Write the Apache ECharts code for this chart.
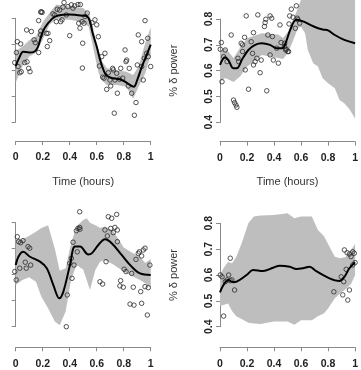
<!DOCTYPE html>
<html>
<head>
<meta charset="utf-8">
<script src="https://cdn.jsdelivr.net/npm/echarts@6/dist/echarts.min.js"></script>
<style>
  html, body { margin: 0; padding: 0; background: #fff; }
  #chart { width: 361px; height: 370px; }
</style>
</head>
<body>
<div id="chart"></div>
<script>
// tick labels
const xTicks = [0, 0.2, 0.4, 0.6, 0.8, 1];
const yTicks = [0.4, 0.5, 0.6, 0.7, 0.8];

// ---- top left ----
const tlPoints = [
  [0.185, 0.824], [0.19, 0.825], [0.196, 0.823],
  [0.358, 0.861], [0.308, 0.835], [0.325, 0.832], [0.35, 0.843], [0.387, 0.845], [0.412, 0.852],
  [0.437, 0.848], [0.461, 0.853], [0.479, 0.853], [0.424, 0.839], [0.375, 0.813], [0.276, 0.817],
  [0.289, 0.813], [0.301, 0.787], [0.333, 0.787], [0.343, 0.794], [0.17, 0.791], [0.467, 0.781],
  [0.491, 0.787], [0.4, 0.733], [0.239, 0.742], [0.227, 0.742], [0.252, 0.714], [0.234, 0.691],
  [0.185, 0.751], [0.185, 0.736], [0.081, 0.755], [0.116, 0.749], [0.136, 0.717], [0.145, 0.706],
  [0.012, 0.71], [0.037, 0.701], [0.005, 0.668], [0.17, 0.668], [0.496, 0.704], [-0.007, 0.629],
  [0.067, 0.629], [0.084, 0.632], [0.017, 0.614], [0.096, 0.607], [0.106, 0.594], [0.03, 0.59],
  [0.041, 0.594], [0.494, 0.608],
  [0.513, 0.807], [0.53, 0.82], [0.476, 0.762], [0.506, 0.781], [0.587, 0.794], [0.6, 0.775],
  [0.565, 0.783], [0.612, 0.729], [0.661, 0.665], [0.637, 0.652], [0.62, 0.616], [0.718, 0.607],
  [0.723, 0.601], [0.686, 0.59], [0.644, 0.573], [0.654, 0.569], [0.698, 0.562], [0.735, 0.562],
  [0.768, 0.565], [0.793, 0.569], [0.778, 0.607], [0.81, 0.678], [0.817, 0.633], [0.822, 0.639],
  [0.841, 0.607], [0.748, 0.588], [0.704, 0.539], [0.674, 0.526], [0.753, 0.511], [0.834, 0.539],
  [0.859, 0.511], [0.891, 0.475], [0.73, 0.434], [0.879, 0.426], [0.901, 0.62], [0.933, 0.614],
  [0.945, 0.562], [1.0, 0.614], [0.908, 0.736], [0.933, 0.71], [0.958, 0.791], [0.978, 0.723],
  [0.97, 0.665], [0.982, 0.652], [0.953, 0.646]
];
const tlLineX = [0, 0.03, 0.055, 0.1, 0.14, 0.165, 0.2, 0.24, 0.29, 0.35, 0.4, 0.45, 0.5, 0.53, 0.55, 0.57, 0.6, 0.625, 0.65, 0.675, 0.72, 0.77, 0.81, 0.845, 0.875, 0.9, 0.935, 0.97, 1.0];
const tlLineY = [0.615, 0.652, 0.671, 0.668, 0.672, 0.69, 0.748, 0.781, 0.806, 0.814, 0.815, 0.813, 0.81, 0.807, 0.788, 0.743, 0.691, 0.64, 0.601, 0.578, 0.569, 0.565, 0.556, 0.543, 0.536, 0.562, 0.614, 0.659, 0.698];
const tlBandX = [0, 0.05, 0.1, 0.15, 0.2, 0.25, 0.3, 0.35, 0.4, 0.45, 0.5, 0.54, 0.565, 0.59, 0.615, 0.64, 0.675, 0.75, 0.82, 0.87, 0.91, 0.96, 1.0];
const tlBandUp = [0.675, 0.69, 0.715, 0.73, 0.785, 0.82, 0.852, 0.85, 0.845, 0.842, 0.84, 0.82, 0.785, 0.72, 0.675, 0.633, 0.607, 0.6, 0.594, 0.581, 0.614, 0.705, 0.765];
const tlBandLo = [0.551, 0.615, 0.653, 0.667, 0.717, 0.775, 0.797, 0.795, 0.794, 0.79, 0.781, 0.768, 0.71, 0.646, 0.588, 0.56, 0.543, 0.543, 0.536, 0.49, 0.536, 0.588, 0.659];

// ---- top right ----
const trPoints = [
  [0.01, 0.709], [0.002, 0.683], [0.039, 0.68], [0.027, 0.654], [0.052, 0.635], [0.015, 0.557],
  [0.083, 0.738], [0.133, 0.648], [0.138, 0.635], [0.1, 0.486], [0.108, 0.476], [0.118, 0.467],
  [0.125, 0.458], [0.157, 0.706], [0.167, 0.70], [0.182, 0.729], [0.167, 0.674], [0.187, 0.603],
  [0.194, 0.812], [0.211, 0.528], [0.231, 0.712], [0.241, 0.667], [0.248, 0.747], [0.26, 0.635],
  [0.248, 0.622], [0.273, 0.648], [0.305, 0.641], [0.28, 0.816], [0.297, 0.592], [0.329, 0.771],
  [0.339, 0.799], [0.334, 0.786], [0.346, 0.522], [0.354, 0.738], [0.371, 0.812], [0.383, 0.803],
  [0.388, 0.732], [0.371, 0.661], [0.395, 0.641], [0.42, 0.687], [0.432, 0.629], [0.444, 0.777],
  [0.452, 0.709], [0.477, 0.693], [0.486, 0.68], [0.501, 0.674], [0.511, 0.781],
  [0.528, 0.838], [0.565, 0.851], [0.516, 0.812], [0.54, 0.807], [0.572, 0.803], [0.59, 0.784],
  [0.558, 0.764], [0.479, 0.706], [0.491, 0.683], [0.508, 0.674], [0.577, 0.797]
];
const trLineX = [0, 0.037, 0.062, 0.1, 0.125, 0.165, 0.21, 0.26, 0.31, 0.37, 0.42, 0.46, 0.485, 0.52, 0.565, 0.62, 0.69, 0.76, 0.8, 0.85, 0.92, 1.0];
const trLineY = [0.622, 0.652, 0.641, 0.609, 0.609, 0.645, 0.68, 0.70, 0.706, 0.70, 0.687, 0.687, 0.706, 0.758, 0.797, 0.79, 0.772, 0.759, 0.756, 0.738, 0.719, 0.706];
const trBandX = [0, 0.04, 0.1, 0.15, 0.2, 0.31, 0.43, 0.467, 0.503, 0.54, 0.577, 0.6, 0.63, 0.65, 0.69, 0.725, 0.76, 0.8, 0.85, 0.885, 0.92, 0.96, 1.0];
const trBandUp = [0.675, 0.688, 0.649, 0.69, 0.725, 0.745, 0.74, 0.726, 0.751, 0.797, 0.842, 0.874, 0.95, 1.0, 1.0, 1.0, 1.0, 1.0, 1.0, 1.0, 1.0, 1.0, 1.0];
const trBandLo = [0.558, 0.572, 0.556, 0.578, 0.615, 0.661, 0.649, 0.645, 0.668, 0.715, 0.765, 0.77, 0.745, 0.68, 0.629, 0.616, 0.571, 0.551, 0.532, 0.486, 0.474, 0.45, 0.415];

// ---- bottom left ----
const blPoints = [
  [0.012, 0.746], [0.022, 0.727], [0.037, 0.723], [0.054, 0.731], [0.091, 0.708], [0.104, 0.702],
  [-0.007, 0.612], [0.03, 0.625], [0.004, 0.58], [0.071, 0.648], [0.078, 0.625], [0.111, 0.637],
  [0.375, 0.40], [0.382, 0.522], [0.4, 0.644], [0.412, 0.663], [0.417, 0.586], [0.432, 0.637],
  [0.425, 0.725], [0.456, 0.688], [0.449, 0.769], [0.461, 0.778], [0.474, 0.782], [0.474, 0.842],
  [0.686, 0.823], [0.711, 0.817], [0.748, 0.832], [0.704, 0.778], [0.735, 0.782], [0.753, 0.772],
  [0.723, 0.762], [0.661, 0.772], [0.679, 0.749], [0.669, 0.65], [0.753, 0.727], [0.624, 0.573],
  [0.644, 0.564], [0.803, 0.621], [0.817, 0.612], [0.859, 0.605], [0.777, 0.577], [0.772, 0.557],
  [0.797, 0.552], [0.871, 0.552], [0.926, 0.535], [0.958, 0.554], [0.982, 0.55], [0.847, 0.487],
  [0.876, 0.483], [0.933, 0.49], [0.975, 0.445], [0.891, 0.659], [0.908, 0.682], [0.933, 0.672],
  [0.945, 0.695], [0.958, 0.702], [0.916, 0.688], [0.994, 0.637], [0.476, 0.775]
];
const blLineX = [0, 0.02, 0.056, 0.106, 0.18, 0.23, 0.279, 0.323, 0.353, 0.402, 0.439, 0.476, 0.538, 0.563, 0.612, 0.661, 0.711, 0.785, 0.859, 0.921, 1.0];
const blLineY = [0.637, 0.669, 0.688, 0.669, 0.65, 0.625, 0.56, 0.509, 0.535, 0.637, 0.708, 0.708, 0.678, 0.682, 0.714, 0.736, 0.721, 0.676, 0.631, 0.605, 0.599];
const blBandX = [0, 0.05, 0.1, 0.15, 0.19, 0.24, 0.29, 0.326, 0.37, 0.41, 0.45, 0.5, 0.526, 0.55, 0.59, 0.625, 0.66, 0.72, 0.8, 0.86, 0.92, 0.96, 1.0];
const blBandUp = [0.735, 0.735, 0.75, 0.765, 0.78, 0.79, 0.7, 0.615, 0.625, 0.72, 0.785, 0.81, 0.817, 0.8, 0.79, 0.78, 0.785, 0.77, 0.705, 0.685, 0.669, 0.645, 0.66];
const blBandLo = [0.56, 0.58, 0.59, 0.573, 0.515, 0.471, 0.42, 0.406, 0.458, 0.58, 0.637, 0.62, 0.58, 0.541, 0.618, 0.65, 0.657, 0.64, 0.612, 0.595, 0.58, 0.567, 0.55];

// ---- bottom right ----
const brPoints = [
  [0.076, 0.665], [0.002, 0.60], [0.015, 0.593], [0.064, 0.60], [0.052, 0.581], [0.039, 0.574],
  [0.076, 0.578], [0.088, 0.581], [0.108, 0.542], [0.027, 0.441],
  [0.921, 0.697], [0.941, 0.686], [0.958, 0.681], [0.983, 0.69], [0.97, 0.671], [0.994, 0.684],
  [1.0, 0.648], [0.983, 0.639], [0.934, 0.622], [0.897, 0.593], [0.916, 0.574], [0.843, 0.535],
  [0.909, 0.523], [0.958, 0.542], [0.946, 0.503]
];
const brLineX = [0, 0.025, 0.061, 0.098, 0.123, 0.197, 0.245, 0.319, 0.393, 0.442, 0.516, 0.565, 0.614, 0.663, 0.713, 0.811, 0.884, 0.921, 0.958, 1.0];
const brLineY = [0.533, 0.561, 0.581, 0.572, 0.574, 0.60, 0.619, 0.615, 0.628, 0.636, 0.632, 0.623, 0.626, 0.632, 0.615, 0.587, 0.577, 0.593, 0.626, 0.649];
const brBandX = [0, 0.03, 0.06, 0.09, 0.12, 0.16, 0.21, 0.25, 0.3, 0.4, 0.5, 0.55, 0.6, 0.68, 0.725, 0.77, 0.8, 0.85, 0.89, 0.93, 0.97, 1.0];
const brBandUp = [0.60, 0.63, 0.65, 0.645, 0.67, 0.722, 0.80, 0.826, 0.83, 0.832, 0.839, 0.82, 0.826, 0.826, 0.774, 0.75, 0.72, 0.671, 0.665, 0.67, 0.697, 0.72];
const brBandLo = [0.48, 0.485, 0.49, 0.46, 0.44, 0.43, 0.415, 0.412, 0.41, 0.42, 0.42, 0.408, 0.425, 0.425, 0.44, 0.452, 0.47, 0.51, 0.529, 0.545, 0.565, 0.6];

const FONT = '"Liberation Sans", Arial, sans-serif';
const AXIS_COLOR = '#8a8a8a';

// panel layout: grid box spans x 0..1 and y 0.4..0.8
const panels = [
  { left: 15.7, top: 18.3, width: 135, height: 103.7, yOff: 4, xOff: 19, yLabels: false, xName: 'Time (hours)', yName: null,
    pts: tlPoints, lx: tlLineX, ly: tlLineY, bx: tlBandX, bu: tlBandUp, bl: tlBandLo },
  { left: 220, top: 19, width: 135.7, height: 103.3, yOff: 4.7, xOff: 19.4, yLabels: true, xName: 'Time (hours)', yName: '% δ power',
    pts: trPoints, lx: trLineX, ly: trLineY, bx: trBandX, bu: trBandUp, bl: trBandLo },
  { left: 15.7, top: 222.7, width: 135, height: 104, yOff: 4.2, xOff: 20.6, yLabels: false, xName: null, yName: null,
    pts: blPoints, lx: blLineX, ly: blLineY, bx: blBandX, bu: blBandUp, bl: blBandLo },
  { left: 220, top: 223.3, width: 135.7, height: 103.4, yOff: 4.7, xOff: 20.6, yLabels: true, xName: null, yName: '% δ power',
    pts: brPoints, lx: brLineX, ly: brLineY, bx: brBandX, bu: brBandUp, bl: brBandLo }
];

let chart = echarts.init(document.getElementById('chart'), null, { renderer: 'canvas' });

let grids = [], xAxes = [], yAxes = [], series = [];
panels.forEach((p, i) => {
  grids.push({ left: p.left, top: p.top, width: p.width, height: p.height });
  xAxes.push({
    type: 'value', gridIndex: i, min: xTicks[0], max: xTicks[xTicks.length - 1], interval: 0.2,
    offset: p.xOff,
    axisLine: { show: true, lineStyle: { color: AXIS_COLOR, width: 1 } },
    axisTick: { show: true, length: 4, lineStyle: { color: AXIS_COLOR } },
    axisLabel: { show: true, margin: 11, fontFamily: FONT, fontSize: 10.5, fontWeight: 'bold', color: '#222',
      formatter: v => String(+v.toFixed(1)) },
    splitLine: { show: false },
    name: p.xName || '', nameLocation: 'middle', nameGap: 35,
    nameTextStyle: { fontFamily: FONT, fontSize: 11, color: '#333' }
  });
  yAxes.push({
    type: 'value', gridIndex: i, min: yTicks[0], max: yTicks[yTicks.length - 1], interval: 0.1,
    offset: p.yOff,
    axisLine: { show: true, lineStyle: { color: AXIS_COLOR, width: 1 } },
    axisTick: { show: true, length: 4, lineStyle: { color: AXIS_COLOR } },
    axisLabel: { show: p.yLabels, rotate: 90, margin: 1, fontFamily: FONT, fontSize: 10.5, fontWeight: 'bold', color: '#222',
      formatter: v => v.toFixed(1) },
    splitLine: { show: false },
    name: p.yName || '', nameLocation: 'middle', nameGap: 36,
    nameTextStyle: { fontFamily: FONT, fontSize: 11, color: '#333' }
  });

  // confidence band
  series.push({
    type: 'custom', xAxisIndex: i, yAxisIndex: i, z: 1, silent: true,
    data: [[p.bx[0], p.bu[0]]],
    renderItem: function (params, api) {
      let pts = [];
      for (let k = 0; k < p.bx.length; k++) pts.push(api.coord([p.bx[k], p.bu[k]]));
      for (let k = p.bx.length - 1; k >= 0; k--) pts.push(api.coord([p.bx[k], p.bl[k]]));
      return { type: 'polygon', shape: { points: pts }, style: { fill: '#bebebe', stroke: null } };
    }
  });
  // observations
  series.push({
    type: 'scatter', xAxisIndex: i, yAxisIndex: i, z: 2, clip: false, silent: true,
    symbol: 'circle', symbolSize: 4.5,
    itemStyle: { color: 'rgba(0,0,0,0)', borderColor: '#2a2a2a', borderWidth: 1 },
    data: p.pts
  });
  // fitted curve
  series.push({
    type: 'line', xAxisIndex: i, yAxisIndex: i, z: 3, clip: false, silent: true,
    smooth: 0.35, showSymbol: false,
    lineStyle: { color: '#000', width: 2 },
    data: p.lx.map((x, k) => [x, p.ly[k]])
  });
});

chart.setOption({
  backgroundColor: '#fff',
  animation: false,
  grid: grids,
  xAxis: xAxes,
  yAxis: yAxes,
  series: series
});
</script>
</body>
</html>
